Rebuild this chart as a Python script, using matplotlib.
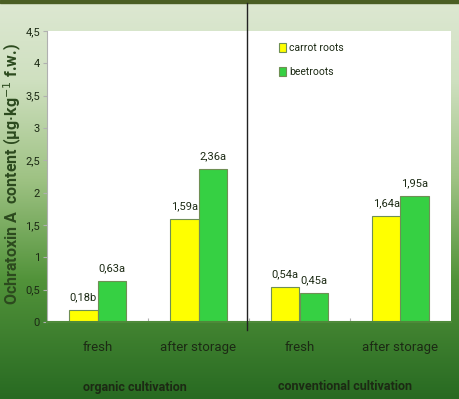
import matplotlib
matplotlib.use("Agg")
import matplotlib.pyplot as plt
import numpy as np
from matplotlib.colors import LinearSegmentedColormap
from matplotlib.patches import Rectangle

# --- data ---
categories = ["fresh", "after storage", "fresh", "after storage"]
groups = ["organic cultivation", "conventional cultivation"]
carrot = [0.18, 1.59, 0.54, 1.64]
beet = [0.63, 2.36, 0.45, 1.95]
carrot_lbl = ["0,18b", "1,59a", "0,54a", "1,64a"]
beet_lbl = ["0,63a", "2,36a", "0,45a", "1,95a"]
yticks = [0, 0.5, 1, 1.5, 2, 2.5, 3, 3.5, 4, 4.5]
ytick_lbl = ["0", "0,5", "1", "1,5", "2", "2,5", "3", "3,5", "4", "4,5"]

plt.rcParams["font.family"] = ["Roboto", "DejaVu Sans"]

YELLOW = "#ffff00"
GREEN = "#36d043"
EDGE = "#6f8f55"
TXT = "#1c2a14"

fig = plt.figure(figsize=(4.6, 3.99), dpi=100)

# background gradient (light at top, dark green at bottom)
bg = fig.add_axes([0, 0, 1, 1], zorder=-10)
cmap = LinearSegmentedColormap.from_list(
    "bg", [(0.0, "#dde8d2"), (0.2, "#cfe0c0"), (0.45, "#9ec283"),
           (0.7, "#52933a"), (1.0, "#286a22")])
grad = np.linspace(0, 1, 256).reshape(-1, 1)
bg.imshow(grad, aspect="auto", cmap=cmap, extent=[0, 1, 0, 1], origin="upper")
bg.add_patch(Rectangle((0, 1 - 3 / 399), 1, 3 / 399, color="#4a5e24"))
bg.set_xlim(0, 1)
bg.set_ylim(0, 1)
bg.axis("off")

ax = fig.add_axes([47 / 460, 1 - 322 / 399, 404 / 460, 291 / 399])
ax.set_facecolor("white")

x = np.arange(len(categories))
w = 0.285
ax.bar(x - w / 2, carrot, w, color=YELLOW, edgecolor=EDGE, linewidth=0.8, label="carrot roots")
ax.bar(x + w / 2, beet, w, color=GREEN, edgecolor=EDGE, linewidth=0.8, label="beetroots")

for xi, v, s in zip(x - w / 2, carrot, carrot_lbl):
    ax.text(xi, v + 0.12, s, ha="center", va="bottom", fontsize=8, color=TXT)
for xi, v, s in zip(x + w / 2, beet, beet_lbl):
    ax.text(xi, v + 0.12, s, ha="center", va="bottom", fontsize=8, color=TXT)

ax.set_xlim(-0.5, 3.5)
ax.set_ylim(0, 4.5)
ax.set_yticks(yticks)
ax.set_yticklabels(ytick_lbl, fontsize=8, color=TXT)
ax.set_xticks([0.5, 1.5, 2.5])
ax.set_xticklabels([])
ax.tick_params(axis="x", length=3, color="#b0b0b0", direction="in")
ax.tick_params(axis="y", length=3, color="#b0b0b0", pad=2)
for s in ["top", "right"]:
    ax.spines[s].set_visible(False)
ax.spines["left"].set_color("#b0b0b0")
ax.spines["bottom"].set_color("#4f8a3a")
ax.spines["bottom"].set_linewidth(1.5)

ax.set_ylabel("Ochratoxin A  content (μg·kg$^{-1}$ f.w.)", fontsize=11.5,
              fontweight="bold", color="#2c4a1e")
ax.yaxis.set_label_coords(-23 / 404, 0.51)

ax.legend(loc="upper left", bbox_to_anchor=(0.55, 0.99), frameon=False,
          fontsize=7.5, handlelength=0.7, handleheight=0.9, handletextpad=0.3,
          labelspacing=1.3, labelcolor=TXT)

# category and group labels below axis
for xi, c in zip(x, categories):
    ax.text(xi, -0.3, c, ha="center", va="top",
            fontsize=9.5, color=TXT, clip_on=False)
fig.text(135 / 460, 1 - 387 / 399, groups[0], ha="center", va="center",
         fontsize=9, fontweight="bold", color=TXT)
fig.text(345 / 460, 1 - 387 / 399, groups[1], ha="center", va="center",
         fontsize=9, fontweight="bold", color=TXT)

# divider line between the two cultivation groups
fig.add_artist(plt.Line2D([247 / 460, 247 / 460], [1 - 3 / 399, 1 - 330 / 399],
                          color="#222222", lw=1, transform=fig.transFigure))

fig.savefig("out.png", dpi=100)
